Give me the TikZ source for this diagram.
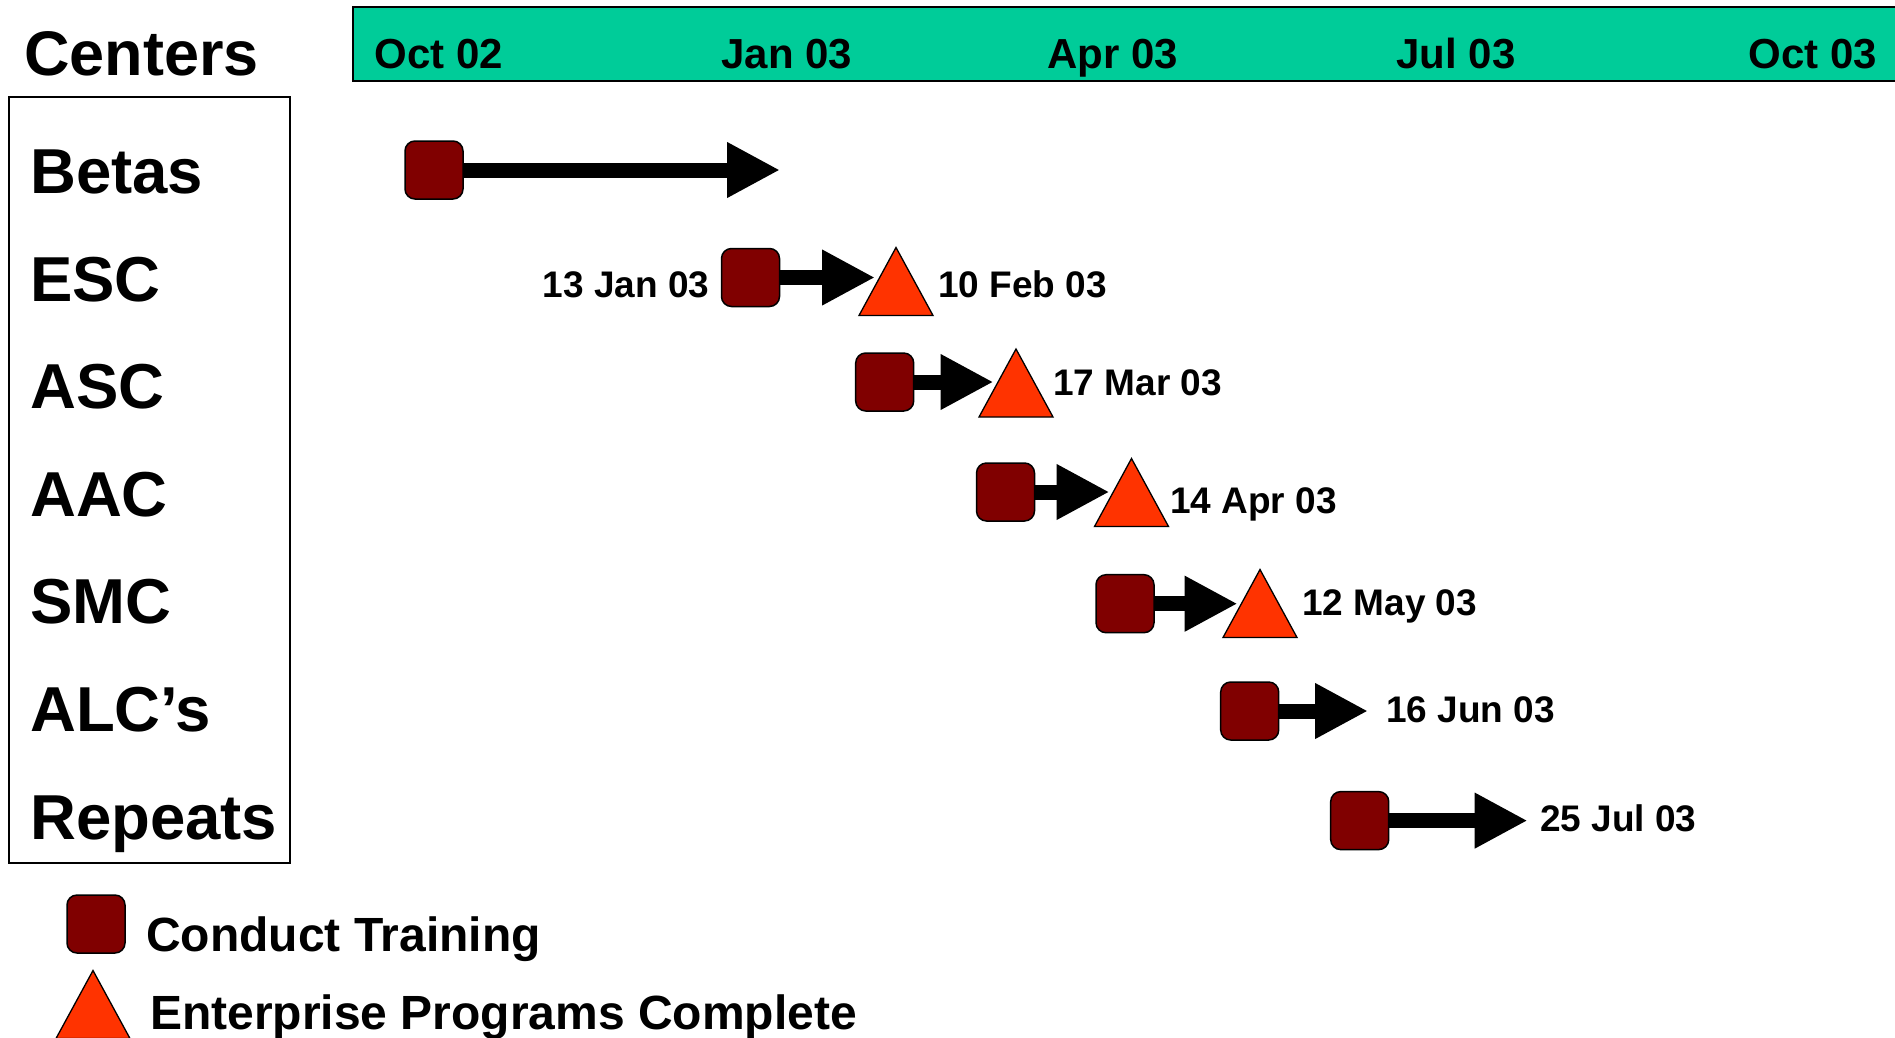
\documentclass[tikz,border=0pt]{standalone}
\usepackage{fontspec}
\setmainfont{Liberation Sans}
\usetikzlibrary{arrows.meta}
\definecolor{sqred}{HTML}{800000}
\definecolor{trired}{HTML}{FF3300}
\definecolor{bandgreen}{HTML}{00CC99}
\newcommand\mytri[3]{%
  \coordinate (#1) at (#2,#3);
  \draw[tristyle, shift={(#2,#3)}] (0,-34) -- (37,34) -- (-37,34) -- cycle;}
\begin{document}
\begin{tikzpicture}[x=1pt,y=-1pt,
  sq/.style={draw=black, line width=1.5pt, fill=sqred, rounded corners=10pt,
    minimum size=58pt, inner sep=0pt},
  tristyle/.style={draw=black, line width=1.3pt, fill=trired, line join=miter},
  arr/.style={line width=15pt, -{Triangle[length=53pt,width=52pt]}},
  rowlab/.style={font=\fontsize{63.5pt}{63.5pt}\selectfont\bfseries, anchor=base west, inner sep=0pt},
  bandlab/.style={font=\fontsize{42pt}{42pt}\selectfont\bfseries, anchor=base, inner sep=0pt},
  datelab/.style={font=\fontsize{37pt}{37pt}\selectfont\bfseries, anchor=base west, inner sep=0pt},
  leglab/.style={font=\fontsize{48pt}{48pt}\selectfont\bfseries, anchor=base west, inner sep=0pt}]
\useasboundingbox (0,0) rectangle (1895,1037);
% header band
\draw[fill=bandgreen, line width=2.5pt] (353,7) rectangle (1910,81);
\node[bandlab] (hOct02) at (439,68) {Oct 02};
\node[bandlab] (hJan03) at (787,68) {Jan 03};
\node[bandlab] (hApr03) at (1113,68) {Apr 03};
\node[bandlab] (hJul03) at (1456,68) {Jul 03};
\node[bandlab] (hOct03) at (1813,68) {Oct 03};
% centers
\node[rowlab, font=\fontsize{63pt}{63pt}\selectfont\bfseries] (centers) at (24,75) {Centers};
\draw[line width=2pt] (8.5,97) rectangle (290,863);
\node[rowlab] (lBetas) at (30,193) {Betas};
\node[rowlab] (lESC) at (30,301) {ESC};
\node[rowlab] (lASC) at (30,408.5) {ASC};
\node[rowlab] (lAAC) at (30,516) {AAC};
\node[rowlab] (lSMC) at (30,623.5) {SMC};
\node[rowlab] (lALC) at (30,731) {ALC’s};
\node[rowlab] (lRep) at (30,839) {Repeats};
% squares
\node[sq] (sBetas) at (434,170) {};
\node[sq] (sESC) at (750.5,277.5) {};
\node[sq] (sASC) at (884.7,382) {};
\node[sq] (sAAC) at (1005.5,492) {};
\node[sq] (sSMC) at (1125,603.7) {};
\node[sq] (sALC) at (1249.7,711) {};
\node[sq] (sRep) at (1359.7,820.6) {};
% arrow ends
\coordinate (eBetas) at (780,170);
\coordinate (eESC) at (875,277.5);
\coordinate (eASC) at (993.5,382);
\coordinate (eAAC) at (1109.5,492);
\coordinate (eSMC) at (1237.6,603.7);
\coordinate (eALC) at (1368,711);
\coordinate (eRep) at (1527.6,820.6);
\draw[arr] (sBetas.east) -- (eBetas);
\draw[arr] (sESC.east) -- (eESC);
\draw[arr] (sASC.east) -- (eASC);
\draw[arr] (sAAC.east) -- (eAAC);
\draw[arr] (sSMC.east) -- (eSMC);
\draw[arr] (sALC.east) -- (eALC);
\draw[arr] (sRep.east) -- (eRep);
% triangles
\mytri{tESC}{896}{281.5}
\mytri{tASC}{1016}{383}
\mytri{tAAC}{1131.5}{492.5}
\mytri{tSMC}{1260}{603.5}
% date labels
\node[datelab, anchor=base east] (d1) at (709.5,297) {13 Jan 03};
\node[datelab] (d2) at (938,297) {10 Feb 03};
\node[datelab] (d3) at (1053,395) {17 Mar 03};
\node[datelab] (d4) at (1170,513) {14 Apr 03};
\node[datelab] (d5) at (1302,615) {12 May 03};
\node[datelab] (d6) at (1386,722.5) {16 Jun 03};
\node[datelab] (d7) at (1540,831) {25 Jul 03};
% legend
\node[sq] (legsq) at (96,924) {};
\node[leglab] (legsqlab) at (146,951) {Conduct Training};
\mytri{legtri}{93}{1004.5}
\node[leglab] (legtrilab) at (150,1029) {Enterprise Programs Complete};
\end{tikzpicture}
\end{document}
